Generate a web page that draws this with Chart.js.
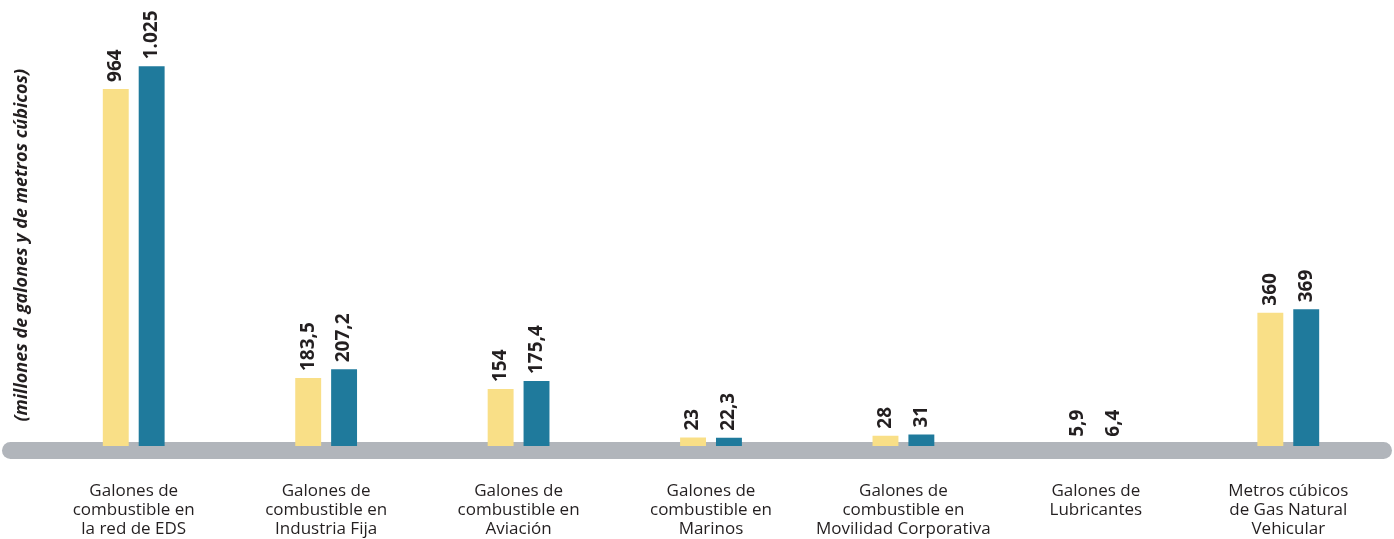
<!DOCTYPE html>
<html>
<head>
<meta charset="utf-8">
<script src="https://cdn.jsdelivr.net/npm/chart.js@4/dist/chart.umd.min.js"></script>
<style>
  html, body { margin: 0; padding: 0; background: #fff; }
  #wrap { width: 1394px; height: 539px; position: relative; }
</style>
</head>
<body>
<div id="wrap"><canvas id="graph"></canvas></div>
<script>
const categories = [
    ['Galones de', 'combustible en', 'la red de EDS'],
    ['Galones de', 'combustible en', 'Industria Fija'],
    ['Galones de', 'combustible en', 'Aviación'],
    ['Galones de', 'combustible en', 'Marinos'],
    ['Galones de', 'combustible en', 'Movilidad Corporativa'],
    ['Galones de', 'Lubricantes'],
    ['Metros cúbicos', 'de Gas Natural', 'Vehicular']
];
const firstValues = [964, 183.5, 154, 23, 28, 5.9, 360];
const secondValues = [1025, 207.2, 175.4, 22.3, 31, 6.4, 369];
const axisTitle = '(millones de galones y de metros cúbicos)';

const yellow = '#f9df87';
const blue = '#1f7a9c';
const ink = '#231f20';

// lubricantes bars are not drawn in the original, only their labels
function colorsFor(color) {
    return categories.map(function (c, i) { return i === 5 ? 'rgba(0,0,0,0)' : color; });
}

function formatValue(v) {
    return v.toLocaleString('de-DE');
}

const baseBand = {
    id: 'baseBand',
    beforeDatasetsDraw: function (chart) {
        const ctx = chart.ctx;
        const y0 = chart.scales.y.getPixelForValue(0);
        const top = y0 - 4, h = 17, left = 2, right = chart.width - 2;
        ctx.save();
        ctx.fillStyle = '#b1b5bb';
        ctx.beginPath();
        ctx.roundRect(left, top, right - left, h, h / 2);
        ctx.fill();
        ctx.restore();
    }
};

const valueLabels = {
    id: 'valueLabels',
    afterDatasetsDraw: function (chart) {
        const ctx = chart.ctx;
        ctx.save();
        ctx.font = 'bold 19px "Open Sans"';
        ctx.fillStyle = ink;
        ctx.textAlign = 'left';
        ctx.textBaseline = 'middle';
        chart.data.datasets.forEach(function (ds, di) {
            chart.getDatasetMeta(di).data.forEach(function (bar, i) {
                ctx.save();
                ctx.translate(bar.x, bar.y - 7);
                ctx.rotate(-Math.PI / 2);
                ctx.fillText(formatValue(ds.data[i]), 0, 0);
                ctx.restore();
            });
        });
        ctx.restore();
    }
};

new Chart(document.getElementById('graph'), {
    type: 'bar',
    data: {
        labels: categories,
        datasets: [
            {
                label: 'Año anterior',
                data: firstValues,
                backgroundColor: colorsFor(yellow),
                barPercentage: 0.722,
                categoryPercentage: 0.373
            },
            {
                label: 'Año actual',
                data: secondValues,
                backgroundColor: colorsFor(blue),
                barPercentage: 0.722,
                categoryPercentage: 0.373
            }
        ]
    },
    options: {
        responsive: true,
        maintainAspectRatio: false,
        animation: false,
        layout: { padding: { left: 0, right: 9.5, top: 40, bottom: 0 } },
        plugins: {
            legend: { display: false },
            tooltip: { enabled: false }
        },
        scales: {
            x: {
                grid: { display: false, drawTicks: false },
                border: { display: false },
                ticks: {
                    color: ink,
                    font: { family: '"Open Sans"', size: 17, lineHeight: 1.13 },
                    padding: 31,
                    maxRotation: 0,
                    autoSkip: false
                },
                afterFit: function (scale) { scale.height = 88.5; }
            },
            y: {
                min: -12,
                max: 1096,
                grid: { display: false, drawTicks: false },
                border: { display: false },
                ticks: { display: false },
                title: {
                    display: true,
                    text: axisTitle,
                    color: ink,
                    font: { family: '"Open Sans"', size: 18, style: 'italic', weight: 'bold', lineHeight: 1.2 },
                    padding: { top: 11, bottom: 4.9 }
                }
            }
        }
    },
    plugins: [baseBand, valueLabels]
});
</script>
</body>
</html>
